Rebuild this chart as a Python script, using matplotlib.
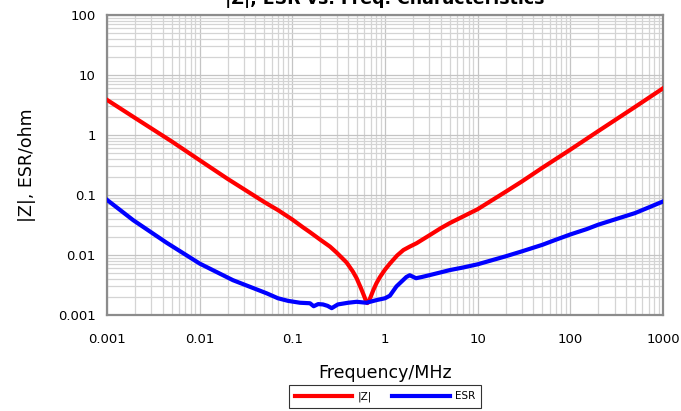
import matplotlib
matplotlib.use("Agg")
import matplotlib.pyplot as plt
from matplotlib.ticker import FixedLocator, FixedFormatter, LogLocator, NullFormatter

# |Z| curve (frequency MHz, ohm)
z_freq = [0.001, 0.002, 0.005, 0.01, 0.02, 0.05, 0.07, 0.1, 0.13, 0.155, 0.2, 0.255,
          0.3, 0.385, 0.45, 0.494, 0.55, 0.593, 0.625, 0.645, 0.67, 0.70, 0.748, 0.81,
          0.883, 1.0, 1.13, 1.35, 1.58, 1.85, 2.19, 3.06, 4.0, 5.0, 10, 20, 30, 50,
          100, 200, 500, 1000]
z_vals = [3.85, 1.93, 0.78, 0.38, 0.186, 0.076, 0.056, 0.039, 0.029, 0.024, 0.018, 0.0138,
          0.011, 0.0075, 0.0053, 0.0041, 0.0028, 0.0021, 0.0017, 0.00158, 0.0017, 0.0020, 0.0026, 0.0034,
          0.0043, 0.0057, 0.0072, 0.0098, 0.0121, 0.0138, 0.0157, 0.0216, 0.028, 0.034, 0.058, 0.113, 0.168, 0.285,
          0.57, 1.16, 2.94, 6.0]

# ESR curve (frequency MHz, ohm)
esr_freq = [0.001, 0.00192, 0.0044, 0.01, 0.0229, 0.0528, 0.07, 0.09, 0.121, 0.155, 0.17,
            0.19, 0.214, 0.24, 0.266, 0.31, 0.40, 0.494, 0.63, 0.82, 1.0, 1.13, 1.33,
            1.7, 1.85, 2.16, 2.5, 3.0, 5.0, 7.0, 10, 20, 30, 50, 70, 100, 150, 200,
            300, 500, 700, 1000]
esr_vals = [0.083, 0.038, 0.016, 0.0072, 0.0038, 0.0023, 0.0019, 0.00172, 0.0016, 0.00157, 0.0014,
            0.00152, 0.0015, 0.00142, 0.0013, 0.0015, 0.0016, 0.00166, 0.0016, 0.00178, 0.0019, 0.0021, 0.0030,
            0.0043, 0.0046, 0.0041, 0.0043, 0.0046, 0.0056, 0.0062, 0.0070, 0.0095, 0.0115, 0.0148, 0.018, 0.022, 0.027, 0.032,
            0.039, 0.050, 0.062, 0.078]

x_ticks = [0.001, 0.01, 0.1, 1, 10, 100, 1000]
x_labels = ["0.001", "0.01", "0.1", "1", "10", "100", "1000"]
y_ticks = [0.001, 0.01, 0.1, 1, 10, 100]
y_labels = ["0.001", "0.01", "0.1", "1", "10", "100"]

fig = plt.figure(figsize=(6.81, 4.11), dpi=100)
ax = fig.add_axes([107/681, 96/411, 556/681, 300/411])

ax.plot(z_freq, z_vals, color="#ff0000", lw=3, label="|Z|", zorder=3)
ax.plot(esr_freq, esr_vals, color="#0000ff", lw=3, label="ESR", zorder=3)

ax.set_xscale("log")
ax.set_yscale("log")
ax.set_xlim(0.001, 1000)
ax.set_ylim(0.001, 100)

ax.xaxis.set_major_locator(FixedLocator(x_ticks))
ax.xaxis.set_major_formatter(FixedFormatter(x_labels))
ax.yaxis.set_major_locator(FixedLocator(y_ticks))
ax.yaxis.set_major_formatter(FixedFormatter(y_labels))
ax.xaxis.set_minor_locator(LogLocator(base=10, subs=range(2, 10), numticks=20))
ax.yaxis.set_minor_locator(LogLocator(base=10, subs=range(2, 10), numticks=20))
ax.xaxis.set_minor_formatter(NullFormatter())
ax.yaxis.set_minor_formatter(NullFormatter())

ax.grid(True, which="major", color="#c4c4c4", lw=0.9)
ax.grid(True, which="minor", color="#d4d4d4", lw=0.9)
ax.set_axisbelow(True)

ax.tick_params(which="both", length=0)
ax.tick_params(axis="both", labelsize=9.5, colors="#000000")
ax.tick_params(axis="y", pad=8)
ax.tick_params(axis="x", pad=13)

for s in ax.spines.values():
    s.set_color("#8c8c8c")
    s.set_linewidth(1.6)

ax.set_xlabel("Frequency/MHz", fontsize=12.5, labelpad=13)
ax.set_ylabel("|Z|, ESR/ohm", fontsize=12.5, labelpad=16)

fig.text(385/681, 1 - 4/411, "|Z|, ESR vs. Freq. Characteristics", ha="center",
         va="baseline", fontsize=12.5, fontweight="bold")

leg = fig.legend(loc="upper center", bbox_to_anchor=(385/681, 1 - 380/411), ncol=2,
                 fontsize=7.5, frameon=True, fancybox=False, edgecolor="#000000",
                 handlelength=5.5, columnspacing=2.0, borderpad=0.6, handletextpad=0.5)
leg.get_frame().set_linewidth(0.8)

fig.savefig("out.png", dpi=100)
